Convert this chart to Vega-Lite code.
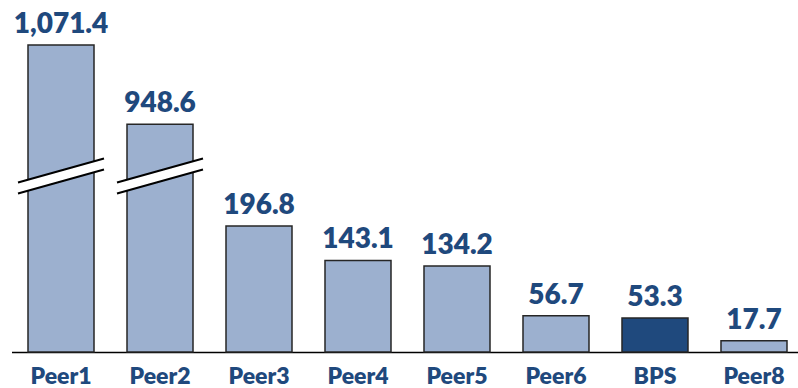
{
  "$schema": "https://vega.github.io/schema/vega-lite/v6.json",
  "width": 798,
  "height": 352,
  "autosize": {"type": "none"},
  "padding": {"left": 0, "top": 0, "right": 0, "bottom": 36},
  "background": "white",
  "config": {"view": {"stroke": null}},
  "data": {
    "values": [
      {"company": "Peer1", "value": 1071.4, "group": "peer"},
      {"company": "Peer2", "value": 948.6, "group": "peer"},
      {"company": "Peer3", "value": 196.8, "group": "peer"},
      {"company": "Peer4", "value": 143.1, "group": "peer"},
      {"company": "Peer5", "value": 134.2, "group": "peer"},
      {"company": "Peer6", "value": 56.7, "group": "peer"},
      {"company": "BPS", "value": 53.3, "group": "bps"},
      {"company": "Peer8", "value": 17.7, "group": "peer"}
    ]
  },
  "encoding": {
    "x": {
      "field": "company",
      "type": "nominal",
      "sort": null,
      "scale": {"range": [11.5, 803.5], "paddingInner": 0.3333, "paddingOuter": 0.1667},
      "axis": {
        "title": null,
        "ticks": false,
        "domainColor": "#000000",
        "domainWidth": 1.5,
        "labelAngle": 0,
        "labelFont": "Lato",
        "labelFontWeight": 800,
        "labelFontSize": 23,
        "labelColor": "#1F497D",
        "labelBaseline": "alphabetic",
        "labelPadding": 31
      }
    },
    "y": {
      "field": "value",
      "type": "quantitative",
      "scale": {
        "domain": [0, 275, 868.6, 1100],
        "range": [352, 176, 175.99, 26.6],
        "zero": false,
        "nice": false
      },
      "axis": null
    }
  },
  "layer": [
    {
      "mark": {"type": "bar", "stroke": "#262626", "strokeWidth": 1.5},
      "encoding": {
        "color": {
          "field": "group",
          "type": "nominal",
          "scale": {"domain": ["peer", "bps"], "range": ["#9CB0CF", "#1F497D"]},
          "legend": null
        }
      }
    },
    {
      "transform": [{"filter": "datum.value > 800"}],
      "mark": {
        "type": "point",
        "shape": "M-1,0.151L1,-0.407L1,-0.151L-1,0.407Z",
        "filled": true,
        "fill": "white",
        "strokeWidth": 0,
        "opacity": 1,
        "size": 7396
      },
      "encoding": {"y": {"datum": 570}}
    },
    {
      "transform": [{"filter": "datum.value > 800"}],
      "mark": {
        "type": "point",
        "shape": "M-1,0.151L1,-0.407M-1,0.407L1,-0.151",
        "filled": false,
        "stroke": "#000000",
        "strokeWidth": 2,
        "opacity": 1,
        "size": 7396
      },
      "encoding": {"y": {"datum": 570}}
    },
    {
      "mark": {
        "type": "text",
        "font": "Lato",
        "fontWeight": 800,
        "fontSize": 28,
        "color": "#1F497D",
        "baseline": "alphabetic",
        "dy": -12
      },
      "encoding": {
        "text": {"field": "value", "type": "quantitative", "format": ",.1f"}
      }
    }
  ]
}
